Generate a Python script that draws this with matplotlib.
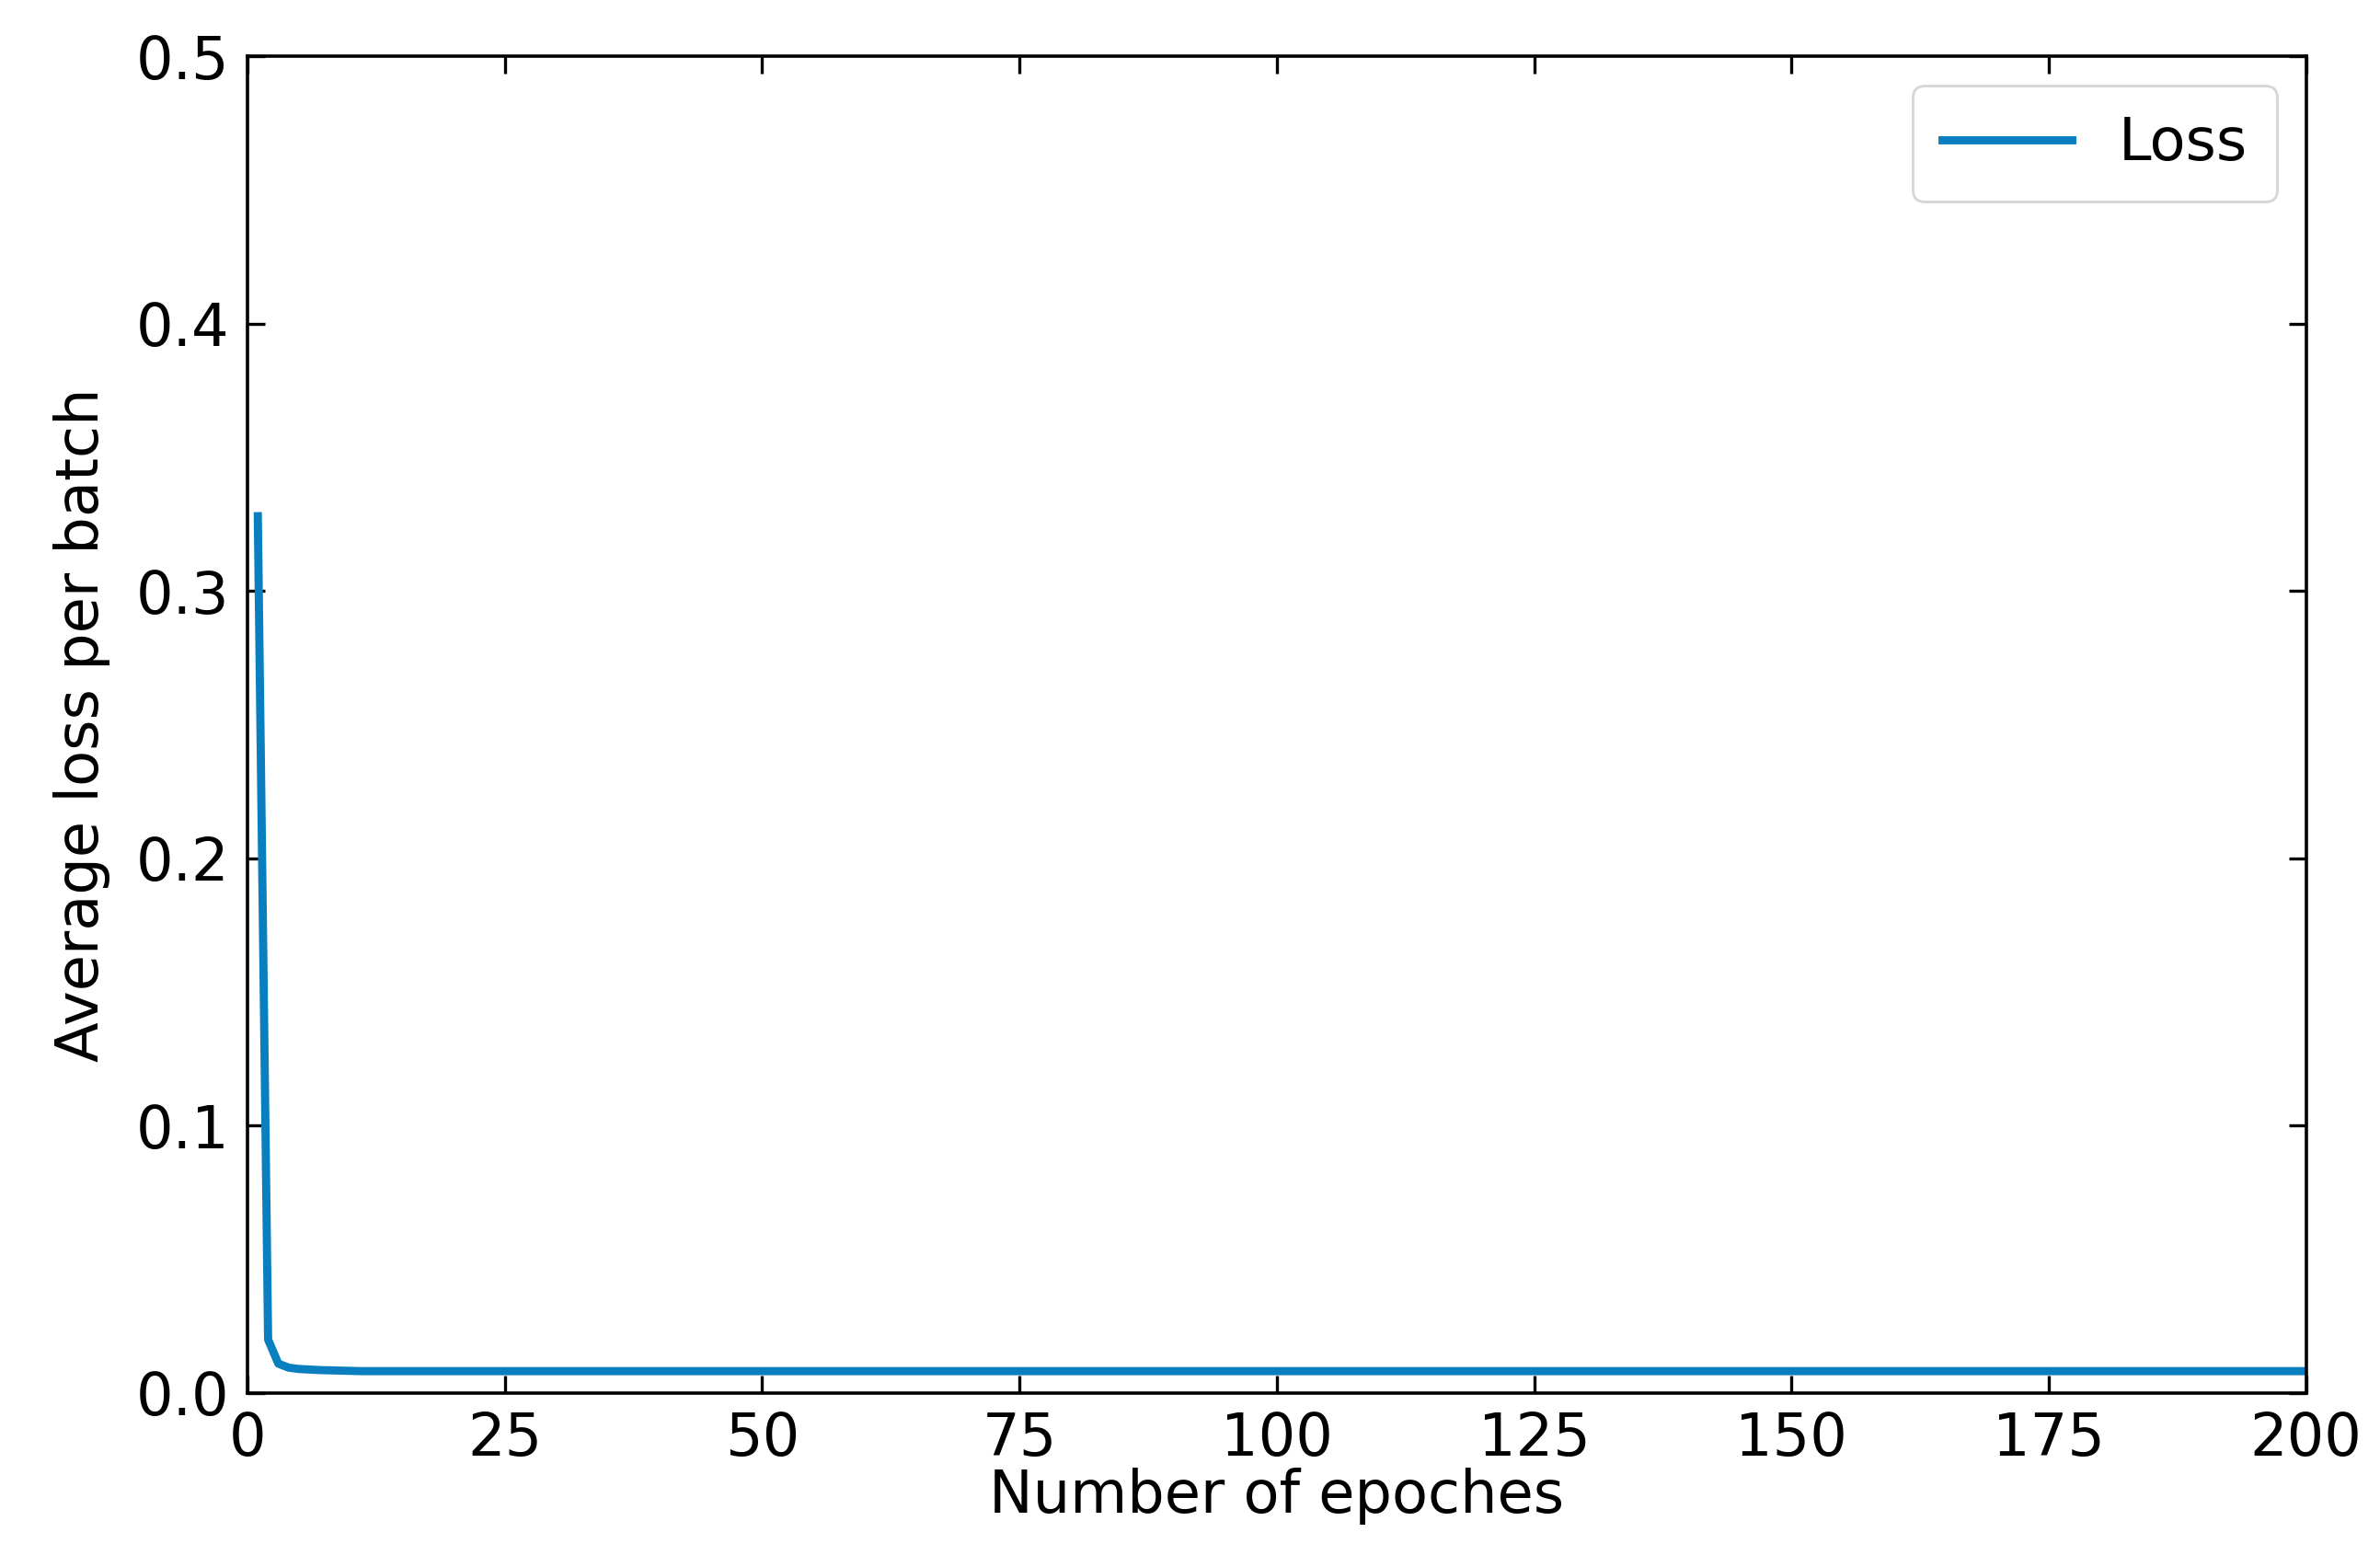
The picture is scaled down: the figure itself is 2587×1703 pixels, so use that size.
import matplotlib.pyplot as plt

# loss values (epochs 1..200)
head_loss = [0.328, 0.020, 0.011, 0.0095, 0.009, 0.0088, 0.0086, 0.0085, 0.0084, 0.0083]
tail_loss = [0.0082] * 190
loss = head_loss + tail_loss
epochs = list(range(1, len(loss) + 1))

x_ticks = [0, 25, 50, 75, 100, 125, 150, 175, 200]
y_ticks = [0.0, 0.1, 0.2, 0.3, 0.4, 0.5]

plt.rcParams['font.family'] = ['DejaVu Sans']
plt.rcParams['font.size'] = 23

fig = plt.figure(figsize=(12.935, 8.515), dpi=200)
ax = fig.add_axes([0.104, 0.111, 0.865, 0.853])

ax.plot(epochs, loss, color='#0a7fc0', linewidth=3.2, label='Loss')

ax.set_xlim(0, 200)
ax.set_ylim(0, 0.5)
ax.set_xticks(x_ticks)
ax.set_yticks(y_ticks)
ax.set_yticklabels([f'{v:.1f}' for v in y_ticks])
ax.tick_params(direction='in', top=True, right=True, length=7, width=1.2, pad=7)
for s in ax.spines.values():
    s.set_linewidth(1.3)

ax.set_xlabel('Number of epoches', labelpad=0)
ax.set_ylabel('Average loss per batch', labelpad=10)
ax.legend(loc='upper right', fancybox=True, handlelength=2.2, borderpad=0.5)

fig.savefig('out.png', dpi=200)
